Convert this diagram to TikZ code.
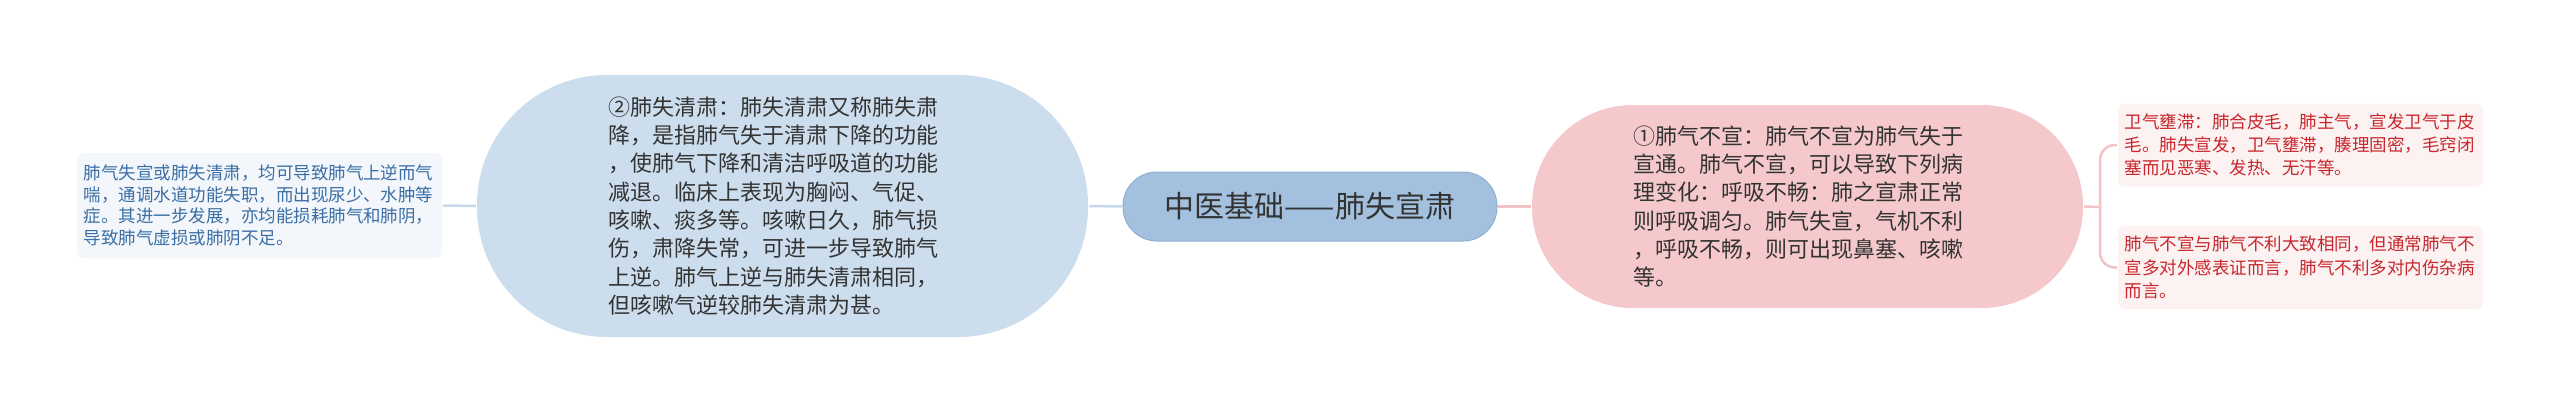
\documentclass[tikz,border=0pt]{standalone}
\usepackage{fontspec}
\usepackage{tikz}
\usetikzlibrary{calc}
\newfontfamily\cjk{Noto Sans CJK SC}
\definecolor{textdark}{HTML}{333333}
\definecolor{rootfill}{HTML}{A3C1DE}
\definecolor{rootedge}{HTML}{8DAFD3}
\definecolor{bluefill}{HTML}{CCDDED}
\definecolor{pinkfill}{HTML}{F5C9CB}
\definecolor{bluenotefill}{HTML}{F3F7FB}
\definecolor{bluenotetext}{HTML}{3A6EA5}
\definecolor{pinknotefill}{HTML}{FCF2F2}
\definecolor{pinknotetext}{HTML}{C8262C}
\definecolor{bluelink}{HTML}{C7D8EA}
\definecolor{pinklink}{HTML}{F1C3C5}
\def\forkx{2100}
\tikzset{
	every node/.style={
		font=\cjk
	},
	main topic/.style={
		shape=rectangle,
		fill=rootfill,
		draw=rootedge,
		line width=1pt,
		minimum width=374pt,
		minimum height=69pt,
		rounded corners=34pt,
		text=textdark,
		font={\cjk\fontsize{30}{36}\selectfont}
	},
	topic/.style={
		shape=rectangle,
		text width=349pt,
		align=left,
		inner sep=0pt,
		text=textdark,
		font={\cjk\fontsize{22}{28.3}\selectfont}
	},
	blue topic/.style={
		topic,
		fill=bluefill,
		minimum width=611pt,
		minimum height=262pt,
		rounded corners=130pt
	},
	pink topic/.style={
		topic,
		fill=pinkfill,
		minimum width=551pt,
		minimum height=203pt,
		rounded corners=101pt
	},
	note/.style={
		shape=rectangle,
		text width=352pt,
		align=left,
		inner sep=5pt,
		minimum width=365pt,
		rounded corners=7pt
	},
	blue note/.style={
		note,
		fill=bluenotefill,
		text=bluenotetext,
		minimum height=105pt,
		font={\cjk\fontsize{17.5}{21.7}\selectfont}
	},
	pink note/.style={
		note,
		fill=pinknotefill,
		text=pinknotetext,
		minimum height=83pt,
		font={\cjk\fontsize{17.5}{23.3}\selectfont}
	}
}

\begin{document}
\begin{tikzpicture}
	[x=1pt,y=-1pt,line width=2.5pt]
	\tikzstyle{blue link}=[draw=bluelink]
	\tikzstyle{pink link}=[draw=pinklink]
	\useasboundingbox (0,0) rectangle (2560,413);
	
	\node[main topic] (C) at (1310,206.5) {中医基础——肺失宣肃};
	
	\node[blue topic] (L-1) at (782.5,206) {②肺失清肃：肺失清肃又称肺失肃\\降，是指肺气失于清肃下降的功能\\，使肺气下降和清洁呼吸道的功能\\减退。临床上表现为胸闷、气促、\\咳嗽、痰多等。咳嗽日久，肺气损\\伤，肃降失常，可进一步导致肺气\\上逆。肺气上逆与肺失清肃相同，\\但咳嗽气逆较肺失清肃为甚。};
	\node[blue note] (L-2) at (259.5,205.5) {肺气失宣或肺失清肃，均可导致肺气上逆而气\\喘，通调水道功能失职，而出现尿少、水肿等\\症。其进一步发展，亦均能损耗肺气和肺阴，\\导致肺气虚损或肺阴不足。};
	
	\node[pink topic] (R-1) at (1807.5,206.5) {①肺气不宣：肺气不宣为肺气失于\\宣通。肺气不宣，可以导致下列病\\理变化：呼吸不畅：肺之宣肃正常\\则呼吸调匀。肺气失宣，气机不利\\，呼吸不畅，则可出现鼻塞、咳嗽\\等。};
	\node[pink note] (R-2) at (2300.5,145) {卫气壅滞：肺合皮毛，肺主气，宣发卫气于皮\\毛。肺失宣发，卫气壅滞，腠理固密，毛窍闭\\塞而见恶寒、发热、无汗等。};
	\node[pink note] (R-3) at (2300.5,267.5) {肺气不宣与肺气不利大致相同，但通常肺气不\\宣多对外感表证而言，肺气不利多对内伤杂病\\而言。};
	\coordinate (fork) at (\forkx,207);
	
	\path[blue link] (C.west) -- (L-1.east);
	\path[blue link] (L-1.west) -- (L-2.east);
	\path[pink link] (C.east) -- (R-1.west);
	\path[pink link] (R-1.east) -- (fork);
	\foreach \dest in {2,3}
	\path[pink link,rounded corners=15pt] (fork) |- (R-\dest.west);
\end{tikzpicture}
\end{document}
